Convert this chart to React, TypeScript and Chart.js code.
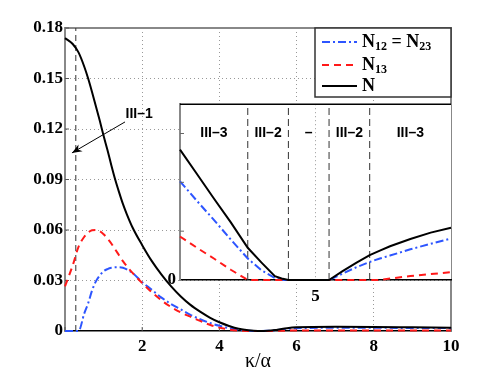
import React, { useEffect, useRef } from 'react';
import { Chart, registerables } from 'chart.js';

Chart.register(...registerables);

// ---------- main plot data ----------
const mainKappa = [0, 0.2, 0.35, 0.5, 0.6, 0.7, 0.8, 0.9, 1.0, 1.1, 1.2, 1.3, 1.4, 1.5, 1.6, 1.75, 2, 2.25, 2.5, 2.75, 3, 3.25, 3.5, 3.75, 4, 4.25, 4.5, 4.75, 5, 5.25, 5.5, 5.75, 6, 7, 8, 9, 10];
const mainN12 = [0, 0, 0, 0.0105, 0.0165, 0.024, 0.0295, 0.033, 0.0355, 0.0368, 0.0376, 0.0379, 0.0379, 0.0376, 0.0366, 0.0345, 0.029, 0.0245, 0.0198, 0.016, 0.0128, 0.0096, 0.007, 0.0048, 0.0031, 0.0017, 0.0007, 0.0001, 0, 0.0001, 0.0006, 0.0013, 0.0017, 0.0019, 0.0019, 0.0018, 0.0017];
const mainN13 = [0.0265, 0.039, 0.05, 0.056, 0.0585, 0.0598, 0.06, 0.0593, 0.0575, 0.055, 0.052, 0.0485, 0.045, 0.0415, 0.0385, 0.0345, 0.0285, 0.023, 0.0182, 0.0142, 0.011, 0.0085, 0.006, 0.0037, 0.002, 0.0009, 0.0002, 0, 0, 0, 0.0001, 0.0002, 0.0003, 0.0003, 0.0003, 0.0003, 0.0003];
const mainN = [0.174, 0.1705, 0.1655, 0.157, 0.15, 0.142, 0.1335, 0.125, 0.116, 0.1075, 0.0985, 0.09, 0.0825, 0.0755, 0.0695, 0.0615, 0.051, 0.0415, 0.0335, 0.0265, 0.0205, 0.0155, 0.0115, 0.008, 0.0052, 0.003, 0.0013, 0.0004, 0, 0.0001, 0.0008, 0.0017, 0.0022, 0.0025, 0.0024, 0.0022, 0.002];
const mainBoundary = [0.28];
const yTickLabels = ['0', '0.03', '0.06', '0.09', '0.12', '0.15', '0.18'];
const xTickLabels = ['', '2', '4', '6', '8', '10'];
const mainRegionLabel = 'III–1';
const mainRegionLabelPos = [1.92, 0.129];
const arrowFrom = [1.555, 0.1242];
const arrowTo = [0.18, 0.1058];

// ---------- inset data ----------
const insetKappa = [4.0, 4.125, 4.25, 4.375, 4.5, 4.6, 4.7, 4.75, 4.8, 4.95, 5.1, 5.2, 5.3, 5.4, 5.475, 5.55, 5.7, 5.85, 6.0];
const insetN = [0.00267, 0.00217, 0.00167, 0.00118, 0.00066, 0.00036, 0.00008, 0.00003, 0, 0, 0, 0.00018, 0.00035, 0.00051, 0.0006, 0.00069, 0.00084, 0.00097, 0.00107];
const insetN12 = [0.00202, 0.00162, 0.00123, 0.00083, 0.00044, 0.0002, 0.00004, 0, 0, 0, 0, 0.00013, 0.00026, 0.00037, 0.00044, 0.0005, 0.00063, 0.00074, 0.00085];
const insetN13 = [0.00089, 0.00066, 0.00044, 0.00021, 0, 0, 0, 0, 0, 0, 0, 0, 0, 0, 0, 0.00003, 0.00008, 0.00012, 0.00016];
const insetBoundaries = [4.5, 4.8, 5.1, 5.4];
const insetRegionLabels = ['III–3', 'III–2', '–', 'III–2', 'III–3'];
const insetRegionCenters = [4.25, 4.65, 4.95, 5.25, 5.7];
const insetYTicks = [0.001, 0.002, 0.003];

// ---------- legend ----------
const legendEntries: { segs: [string, boolean][]; color: string; dash: number[] }[] = [
  { segs: [['N', false], ['12', true], [' = ', false], ['N', false], ['23', true]], color: 'rgb(45,85,255)', dash: [8, 3, 2, 3] },
  { segs: [['N', false], ['13', true]], color: 'rgb(255,25,25)', dash: [7, 5] },
  { segs: [['N', false]], color: '#000', dash: [] },
];

const BLUE = 'rgb(45,85,255)';
const RED = 'rgb(255,25,25)';
const SERIF = '"Liberation Serif", "Times New Roman", serif';
const SANS = '"Liberation Sans", Arial, sans-serif';

const pts = (xs: number[], ys: number[]) => xs.map((x, i) => ({ x, y: ys[i] }));

function drawRich(ctx: CanvasRenderingContext2D, x: number, y: number, segs: [string, boolean][]) {
  let cx = x;
  ctx.textBaseline = 'middle';
  ctx.textAlign = 'left';
  for (const [t, sub] of segs) {
    if (sub) {
      ctx.font = `bold 12px ${SERIF}`;
      ctx.fillText(t, cx, y + 5);
    } else {
      ctx.font = `bold 18px ${SERIF}`;
      ctx.fillText(t, cx, y);
    }
    cx += ctx.measureText(t).width;
  }
}

const mainPlugin = {
  id: 'mainDecor',
  beforeDatasetsDraw(chart: any) {
    const { ctx, chartArea: a } = chart;
    ctx.save();
    ctx.strokeStyle = '#888';
    ctx.lineWidth = 2;
    ctx.beginPath();
    ctx.moveTo(a.left, a.top);
    ctx.lineTo(a.right, a.top);
    ctx.lineTo(a.right, a.bottom);
    ctx.stroke();
    ctx.strokeStyle = '#555';
    ctx.lineWidth = 1;
    const ys = chart.scales.y;
    const xs = chart.scales.x;
    ys.ticks.forEach((t: any) => {
      const p = ys.getPixelForValue(t.value);
      ctx.beginPath();
      ctx.moveTo(a.left, p);
      ctx.lineTo(a.left + 4, p);
      ctx.stroke();
    });
    xs.ticks.forEach((t: any) => {
      const p = xs.getPixelForValue(t.value);
      ctx.beginPath();
      ctx.moveTo(p, a.bottom);
      ctx.lineTo(p, a.bottom - 4);
      ctx.stroke();
    });
    ctx.restore();
  },
  afterDatasetsDraw(chart: any) {
    const { ctx, chartArea: a } = chart;
    const xs = chart.scales.x;
    const ys = chart.scales.y;
    ctx.save();
    ctx.fillStyle = '#000';
    ctx.font = `bold 14px ${SANS}`;
    ctx.textAlign = 'center';
    ctx.textBaseline = 'middle';
    ctx.fillText(mainRegionLabel, xs.getPixelForValue(mainRegionLabelPos[0]), ys.getPixelForValue(mainRegionLabelPos[1]));
    const fx = xs.getPixelForValue(arrowFrom[0]);
    const fy = ys.getPixelForValue(arrowFrom[1]);
    const tx = xs.getPixelForValue(arrowTo[0]);
    const ty = ys.getPixelForValue(arrowTo[1]);
    ctx.strokeStyle = '#000';
    ctx.lineWidth = 1;
    ctx.beginPath();
    ctx.moveTo(fx, fy);
    ctx.lineTo(tx, ty);
    ctx.stroke();
    const ang = Math.atan2(ty - fy, tx - fx);
    const L = 10, W = 4;
    const bx = tx - L * Math.cos(ang), by = ty - L * Math.sin(ang);
    ctx.beginPath();
    ctx.moveTo(tx, ty);
    ctx.lineTo(bx + W * Math.sin(ang), by - W * Math.cos(ang));
    ctx.lineTo(tx - 0.7 * L * Math.cos(ang), ty - 0.7 * L * Math.sin(ang));
    ctx.lineTo(bx - W * Math.sin(ang), by + W * Math.cos(ang));
    ctx.closePath();
    ctx.fill();

    const bw = 136, bh = 69;
    const lx = a.right - bw, ly = a.top;
    ctx.fillStyle = '#fff';
    ctx.fillRect(lx, ly, bw, bh);
    ctx.strokeStyle = '#333';
    ctx.lineWidth = 1.5;
    ctx.strokeRect(lx, ly, bw, bh);
    const rows = [14, 37, 58];
    legendEntries.forEach((e, i) => {
      const ry = ly + rows[i];
      ctx.strokeStyle = e.color;
      ctx.lineWidth = 2;
      ctx.setLineDash(e.dash);
      ctx.beginPath();
      ctx.moveTo(lx + 7, ry);
      ctx.lineTo(lx + 42, ry);
      ctx.stroke();
      ctx.setLineDash([]);
      ctx.fillStyle = '#000';
      drawRich(ctx, lx + 47, ry, e.segs);
    });
    ctx.restore();
  },
};

const insetPlugin = {
  id: 'insetDecor',
  beforeDraw(chart: any) {
    const { ctx, chartArea: a } = chart;
    ctx.save();
    ctx.fillStyle = '#fff';
    ctx.fillRect(a.left, a.top, a.right - a.left, a.bottom - a.top);
    ctx.restore();
  },
  afterDatasetsDraw(chart: any) {
    const { ctx, chartArea: a } = chart;
    const xs = chart.scales.x;
    const ys = chart.scales.y;
    ctx.save();
    ctx.strokeStyle = '#000';
    ctx.lineWidth = 1.5;
    ctx.beginPath();
    ctx.moveTo(a.left, a.top);
    ctx.lineTo(a.right, a.top);
    ctx.stroke();
    ctx.strokeStyle = '#666';
    ctx.lineWidth = 1;
    insetYTicks.forEach((v) => {
      const p = ys.getPixelForValue(v);
      ctx.beginPath();
      ctx.moveTo(a.left, p);
      ctx.lineTo(a.left + 4, p);
      ctx.stroke();
    });
    ctx.fillStyle = '#000';
    ctx.font = `bold 14px ${SANS}`;
    ctx.textAlign = 'center';
    ctx.textBaseline = 'middle';
    insetRegionLabels.forEach((t, i) => {
      ctx.fillText(t, xs.getPixelForValue(insetRegionCenters[i]), ys.getPixelForValue(0.003));
    });
    ctx.restore();
  },
};

export default function App() {
  const mainRef = useRef<HTMLCanvasElement>(null);
  const insetRef = useRef<HTMLCanvasElement>(null);

  useEffect(() => {
    const lineDs = (label: string, data: any, color: string, dash: number[], order: number, mono: boolean) => ({
      label,
      data,
      borderColor: color,
      borderWidth: 2,
      borderDash: dash,
      pointRadius: 0,
      fill: false,
      clip: false,
      order,
      tension: mono ? 0.4 : 0,
      cubicInterpolationMode: mono ? 'monotone' : 'default',
    });

    const main = new Chart(mainRef.current!, {
      type: 'line',
      data: {
        datasets: [
          lineDs('N', pts(mainKappa, mainN), '#000', [], 1, true),
          lineDs('N13', pts(mainKappa, mainN13), RED, [7, 5], 2, true),
          lineDs('N12 = N23', pts(mainKappa, mainN12), BLUE, [8, 3, 2, 3], 3, true),
          ...mainBoundary.map((b) => ({
            label: 'boundary',
            data: [{ x: b, y: 0 }, { x: b, y: 0.18 }],
            borderColor: '#333',
            borderWidth: 1,
            borderDash: [6, 4],
            pointRadius: 0,
            order: 4,
          })),
        ] as any,
      },
      options: {
        responsive: false,
        animation: false,
        events: [],
        layout: { padding: { top: 28, right: 47, left: 0, bottom: 0 } },
        plugins: { legend: { display: false }, tooltip: { enabled: false } },
        scales: {
          x: {
            type: 'linear',
            min: 0,
            max: 10,
            afterFit: (s: any) => { s.height = 43; },
            ticks: {
              stepSize: 2,
              autoSkip: false,
              maxRotation: 0,
              padding: 5,
              color: '#000',
              font: { family: SERIF, weight: 'bold', size: 17 },
              callback: (_v: any, i: number) => xTickLabels[i],
            },
            grid: {
              drawTicks: false,
              lineWidth: 1,
              color: (c: any) => (c.tick && (c.tick.value === 0 || c.tick.value === 10) ? 'rgba(0,0,0,0)' : '#999'),
            },
            border: { display: true, color: '#000', width: 1.5, dash: [1, 3] },
            title: { display: true, text: 'κ/α', color: '#000', font: { family: SERIF, size: 20 }, padding: { top: 0, bottom: 0 } },
          },
          y: {
            type: 'linear',
            min: 0,
            max: 0.18,
            afterFit: (s: any) => { s.width = 65; },
            ticks: {
              stepSize: 0.03,
              autoSkip: false,
              padding: 2,
              color: '#000',
              font: { family: SERIF, weight: 'bold', size: 17 },
              callback: (_v: any, i: number) => yTickLabels[i],
            },
            grid: {
              drawTicks: false,
              lineWidth: 1,
              color: (c: any) => (c.tick && (c.index === 0 || c.index === 6) ? 'rgba(0,0,0,0)' : '#999'),
            },
            border: { display: true, color: '#888', width: 2, dash: [1, 3] },
          },
        },
      } as any,
      plugins: [mainPlugin],
    });

    const inset = new Chart(insetRef.current!, {
      type: 'line',
      data: {
        datasets: [
          lineDs('N', pts(insetKappa, insetN), '#000', [], 1, false),
          lineDs('N13', pts(insetKappa, insetN13), RED, [7, 5], 2, false),
          lineDs('N12 = N23', pts(insetKappa, insetN12), BLUE, [8, 3, 2, 3], 3, false),
          ...insetBoundaries.map((b) => ({
            label: 'boundary',
            data: [{ x: b, y: 0 }, { x: b, y: 0.0036 }],
            borderColor: '#333',
            borderWidth: 1,
            borderDash: [7, 4],
            pointRadius: 0,
            order: 4,
          })),
        ] as any,
      },
      options: {
        responsive: false,
        animation: false,
        events: [],
        layout: { padding: { top: 8, right: 9, left: 0, bottom: 0 } },
        plugins: { legend: { display: false }, tooltip: { enabled: false } },
        scales: {
          x: {
            type: 'linear',
            min: 4,
            max: 6,
            afterFit: (s: any) => { s.height = 30; },
            ticks: {
              stepSize: 0.5,
              autoSkip: false,
              maxRotation: 0,
              padding: 6,
              color: '#000',
              font: { family: SERIF, weight: 'bold', size: 17 },
              callback: (v: any) => (v === 5 ? '5' : ''),
            },
            grid: {
              drawTicks: false,
              lineWidth: 1,
              color: (c: any) => (c.tick && c.tick.value === 5 ? '#999' : 'rgba(0,0,0,0)'),
            },
            border: { display: true, color: '#000', width: 1.5, dash: [1, 3] },
          },
          y: {
            type: 'linear',
            min: 0,
            max: 0.0036,
            afterFit: (s: any) => { s.width = 30; },
            ticks: {
              stepSize: 0.001,
              autoSkip: false,
              padding: 4,
              color: '#000',
              font: { family: SERIF, weight: 'bold', size: 17 },
              callback: (v: any) => (v === 0 ? '0' : ''),
            },
            grid: { display: false, drawTicks: false },
            border: { display: true, color: '#888', width: 2 },
          },
        },
      } as any,
      plugins: [insetPlugin],
    });

    return () => {
      main.destroy();
      inset.destroy();
    };
  }, []);

  return (
    <div style={{ position: 'absolute', left: 0, top: 0, width: 498, height: 374, background: '#fff' }}>
      <canvas ref={mainRef} width={498} height={374} style={{ position: 'absolute', left: 0, top: 0 }} />
      <canvas ref={insetRef} width={310} height={220} style={{ position: 'absolute', left: 150, top: 90 }} />
    </div>
  );
}
